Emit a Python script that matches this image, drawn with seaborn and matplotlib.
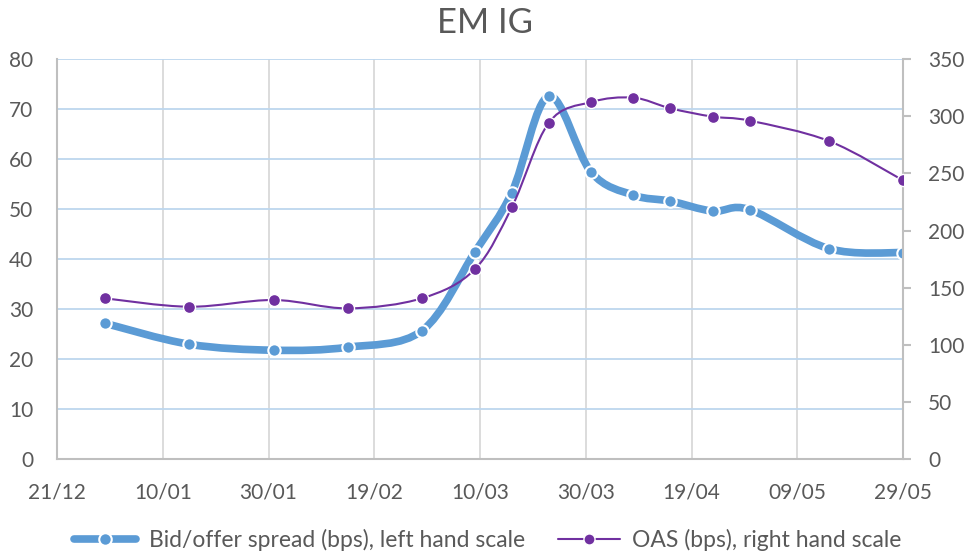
import numpy as np
import pandas as pd
import matplotlib
matplotlib.use('Agg')
import matplotlib.pyplot as plt
import matplotlib.dates as mdates
from matplotlib.path import Path
from matplotlib.patches import PathPatch
from matplotlib.lines import Line2D
import seaborn as sns

# data
dates = ['2019-12-30', '2020-01-15', '2020-01-31', '2020-02-14', '2020-02-28',
         '2020-03-09', '2020-03-16', '2020-03-23', '2020-03-31', '2020-04-08',
         '2020-04-15', '2020-04-23', '2020-04-30', '2020-05-15', '2020-05-29']
bid_offer = [27.2, 23.0, 21.8, 22.4, 25.7, 41.4, 53.3, 72.6, 57.4, 52.8,
             51.6, 49.6, 49.9, 42.1, 41.3]
oas = [140.8, 133.4, 139.3, 132.0, 140.8, 166.1, 220.3, 294.3, 312.4, 316.2,
       306.9, 299.6, 296.1, 278.3, 243.9]
tick_dates = ['2019-12-21', '2020-01-10', '2020-01-30', '2020-02-19', '2020-03-10',
              '2020-03-30', '2020-04-19', '2020-05-09', '2020-05-29']

df = pd.DataFrame({'date': pd.to_datetime(dates), 'bid_offer': bid_offer, 'oas': oas})

BLUE = '#5B9BD5'
PURPLE = '#7030A0'
GREY_TXT = '#595959'

sns.set_theme(style='white')
plt.rcParams['font.family'] = ['Lato', 'DejaVu Sans']


def smooth_path(x, y):
    # Excel-like smoothed line: cubic bezier through every point
    pts = np.column_stack([x, y])
    n = len(pts)
    verts = [pts[0]]
    codes = [Path.MOVETO]
    for i in range(n - 1):
        p0 = pts[max(i - 1, 0)]
        p1 = pts[i]
        p2 = pts[i + 1]
        p3 = pts[min(i + 2, n - 1)]
        verts += [p1 + (p2 - p0) / 6, p2 - (p3 - p1) / 6, p2]
        codes += [Path.CURVE4] * 3
    return Path(verts, codes)


fig = plt.figure(figsize=(9.7, 5.57), dpi=100)
ax = fig.add_axes([0.0588, 0.1754, 0.8722, 0.7186])
ax2 = ax.twinx()

xnum = mdates.date2num(df['date'])

ax.add_patch(PathPatch(smooth_path(xnum, df['bid_offer'].values), facecolor='none',
                       edgecolor=BLUE, lw=5.5, capstyle='round', joinstyle='round', zorder=3))
sns.scatterplot(data=df, x='date', y='bid_offer', ax=ax, s=80, color=BLUE,
                edgecolor='white', linewidth=1.5, zorder=4, legend=False)

ax2.add_patch(PathPatch(smooth_path(xnum, df['oas'].values), facecolor='none',
                        edgecolor=PURPLE, lw=1.5, zorder=3))
sns.scatterplot(data=df, x='date', y='oas', ax=ax2, s=75, color=PURPLE,
                edgecolor='white', linewidth=1.0, zorder=4, legend=False)

ticks = pd.to_datetime(tick_dates)
ax.set_xlim(ticks[0], ticks[-1])
ax.set_xticks(ticks)
ax.xaxis.set_major_formatter(mdates.DateFormatter('%d/%m'))
ax.set_ylim(0, 80)
ax.set_yticks(range(0, 81, 10))
ax2.set_ylim(0, 350)
ax2.set_yticks(range(0, 351, 50))

ax.grid(axis='y', color='#BDD7EE', lw=1.3)
ax.grid(axis='x', color='#D9D9D9', lw=1.3)
ax.set_axisbelow(True)
ax.set_xlabel('')
ax.set_ylabel('')
ax2.set_ylabel('')

for a in (ax, ax2):
    for s in a.spines.values():
        s.set_visible(False)
ax.spines['left'].set_visible(True)
ax.spines['bottom'].set_visible(True)
ax2.spines['right'].set_visible(True)
for s in (ax.spines['left'], ax.spines['bottom'], ax2.spines['right']):
    s.set_color('#BFBFBF')
    s.set_linewidth(1.5)

ax.tick_params(axis='x', length=0, pad=17, labelsize=15, labelcolor=GREY_TXT)
ax.tick_params(axis='y', length=0, pad=17, labelsize=15, labelcolor=GREY_TXT)
ax2.tick_params(axis='y', length=6, width=1.5, color='#BFBFBF', pad=12,
                labelsize=15, labelcolor=GREY_TXT)

fig.text(0.5, 0.958, 'EM IG', ha='center', va='center', fontsize=25, color=GREY_TXT)

handles = [
    Line2D([], [], color=BLUE, lw=5.5, marker='o', markersize=9,
           markerfacecolor=BLUE, markeredgecolor='white', markeredgewidth=1.5),
    Line2D([], [], color=PURPLE, lw=1.5, marker='o', markersize=8,
           markerfacecolor=PURPLE, markeredgecolor='white', markeredgewidth=1.0),
]
fig.legend(handles, ['Bid/offer spread (bps), left hand scale', 'OAS (bps), right hand scale'],
           loc='center', bbox_to_anchor=(0.503, 0.0305), ncol=2, frameon=False,
           fontsize=16.5, labelcolor=GREY_TXT, handlelength=2.7, handletextpad=0.55,
           columnspacing=1.45)

fig.savefig('out.png', dpi=100)
